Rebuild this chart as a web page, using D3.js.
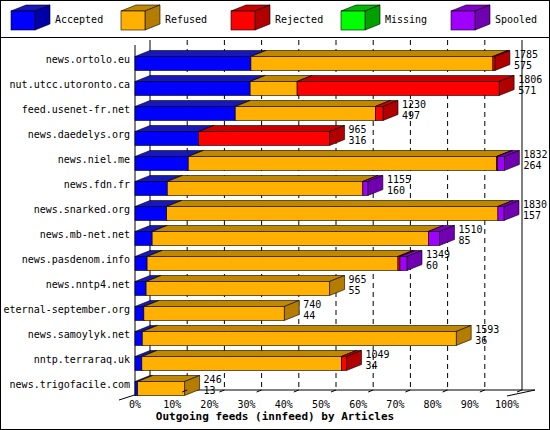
<!DOCTYPE html>
<html><head><meta charset="utf-8">
<script src="https://cdn.jsdelivr.net/npm/d3@7"></script>
<style>body{margin:0;background:#fff}text{font-family:"DejaVu Sans Mono",monospace;font-size:10px}</style>
</head><body><div id="viz"></div>
<script>
let hosts = ["news.ortolo.eu","nut.utcc.utoronto.ca","feed.usenet-fr.net","news.daedelys.org","news.niel.me","news.fdn.fr","news.snarked.org","news.mb-net.net","news.pasdenom.info","news.nntp4.net","eternal-september.org","news.samoylyk.net","nntp.terraraq.uk","news.trigofacile.com"];
let offered  = [1785,1806,1230,965,1832,1155,1830,1510,1349,965,740,1593,1049,246];
let accepted = [575,571,497,316,264,160,157,85,60,55,44,36,34,13];
let refused  = [1200,233,695,0,1530,970,1643,1370,1244,910,696,1557,990,233];
let rejected = [10,1002,38,649,5,0,0,0,10,0,0,0,25,0];
let missing  = [0,0,0,0,0,0,0,0,0,0,0,0,0,0];
let spooled  = [0,0,0,0,33,25,30,55,35,0,0,0,0,0];
let series = ["Accepted","Refused","Rejected","Missing","Spooled"];
let ticks = ["0%","10%","20%","30%","40%","50%","60%","70%","80%","90%","100%"];
let fronts = ["#0000ff","#ffb000","#ff0000","#00ff00","#a000ff"];
let sides  = ["#0000a8","#b47c00","#b00000","#00a000","#7000b0"];
let tops   = ["#1818b8","#c08800","#c80000","#00b800","#8000c8"];

const W = 550, H = 430, dx = 15, dy = 6;
const svg = d3.select("#viz").append("svg").attr("width", W).attr("height", H);
svg.append("rect").attr("x",0.5).attr("y",0.5).attr("width",W-1).attr("height",H-1).attr("fill","#fff").attr("stroke","#000");
svg.append("line").attr("x1",0).attr("x2",W).attr("y1",37.5).attr("y2",37.5).attr("stroke","#000");

function box(g, x, y, w, h, i){
  g.append("polygon").attr("points",[[x,y],[x+dx,y-dy],[x+w+dx,y-dy],[x+w,y]].join(" "))
    .attr("fill",tops[i]).attr("stroke","#000").attr("stroke-width",0.6);
  g.append("polygon").attr("points",[[x+w,y],[x+w+dx,y-dy],[x+w+dx,y+h-dy],[x+w,y+h]].join(" "))
    .attr("fill",sides[i]).attr("stroke","#000").attr("stroke-width",0.6);
  g.append("rect").attr("x",x).attr("y",y).attr("width",w).attr("height",h)
    .attr("fill",fronts[i]).attr("stroke","#000").attr("stroke-width",0.6);
}

// legend
series.forEach((s,i)=>{
  const lx = 11 + i*110;
  box(svg.append("g"), lx, 11, 24, 19, i);
  svg.append("text").attr("x", lx+44).attr("y", 23).text(s);
});

const x = d3.scaleLinear().domain([0,100]).range([135,507]);
const v = d3.scaleLinear().domain([0,1845]).range([135,507]);
const y = d3.scaleBand().domain(hosts).range([50,400]).padding(0);

// back wall grid
const yTop = 40, yBot = 390;
ticks.forEach((t,k)=>{
  const bx = x(k*10)+dx;
  if(k>0 && k<10) svg.append("line").attr("x1",bx).attr("x2",bx).attr("y1",yTop).attr("y2",yBot)
    .attr("stroke","#000").attr("stroke-dasharray","5,4");
});
svg.append("line").attr("x1",x(100)+dx).attr("x2",x(100)+dx).attr("y1",yTop).attr("y2",yBot).attr("stroke","#000");
svg.append("line").attr("x1",x(0)+dx).attr("x2",x(0)+dx).attr("y1",yTop).attr("y2",yBot).attr("stroke","#000");
svg.append("line").attr("x1",x(0)+dx).attr("x2",x(100)+dx+13).attr("y1",yBot).attr("y2",yBot).attr("stroke","#000");
svg.append("line").attr("x1",x(0)).attr("x2",x(0)).attr("y1",yTop+5).attr("y2",yBot+6).attr("stroke","#000");
svg.append("line").attr("x1",x(0)-16).attr("x2",x(0)+dx).attr("y1",yBot+10).attr("y2",yBot).attr("stroke","#000");
svg.append("line").attr("x1",x(100)).attr("x2",x(100)+dx+13).attr("y1",yBot+6).attr("y2",yBot).attr("stroke","#000");

// bars
hosts.forEach((h,r)=>{
  const cy = y(h) + y.bandwidth()/2 - 4;
  const vals = [accepted[r],refused[r],rejected[r],missing[r],spooled[r]];
  const g = svg.append("g");
  let acc = 0;
  vals.forEach((val,i)=>{
    if(val<=0) return;
    box(g, v(acc), cy-2, v(acc+val)-v(acc), 14, i);
    acc += val;
  });
  svg.append("text").attr("x",130).attr("y",cy+4).attr("text-anchor","end").text(h);
  const ex = v(acc)+dx+4;
  svg.append("text").attr("x",ex).attr("y",cy-1).text(offered[r]);
  svg.append("text").attr("x",ex).attr("y",cy+10).text(accepted[r]);
});

// floor ticks and labels
ticks.forEach((t,k)=>{
  const fx = x(k*10);
  if(k>0) svg.append("line").attr("x1",fx+dx-5).attr("x2",fx+dx).attr("y1",yBot+2).attr("y2",yBot).attr("stroke","#000");
  svg.append("text").attr("x",fx).attr("y",408).attr("text-anchor","middle").text(t);
});
svg.append("text").attr("x",275).attr("y",420).attr("text-anchor","middle").attr("font-weight","bold").style("font-size","11px")
  .text("Outgoing feeds (innfeed) by Articles");
</script></body></html>
